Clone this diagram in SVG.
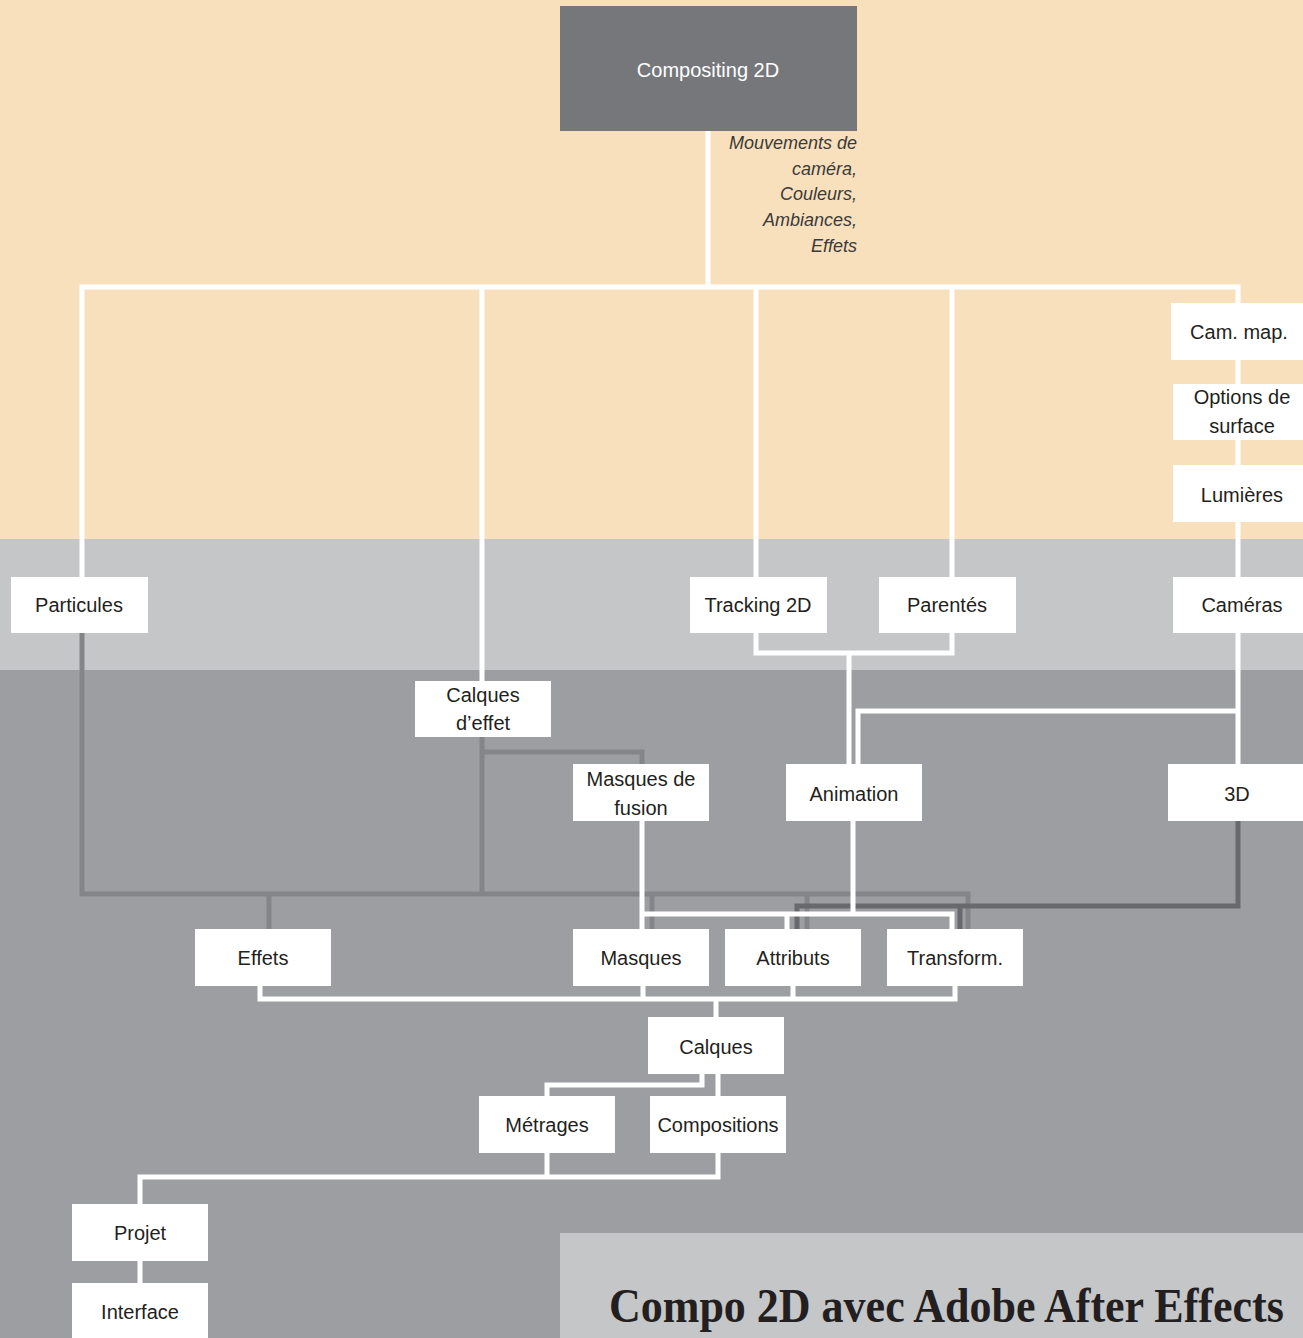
<svg xmlns="http://www.w3.org/2000/svg" width="1303" height="1338" viewBox="0 0 1303 1338">
<style>
.n rect{fill:#ffffff}
.n text{font-family:"Liberation Sans",Arial,sans-serif;font-size:20px;fill:#231f20;text-anchor:middle;dominant-baseline:central}
.w{fill:none;stroke:#ffffff;stroke-width:5}
.d1{fill:none;stroke:#848589;stroke-width:5}
.d2{fill:none;stroke:#68696c;stroke-width:5}
.note{font-family:"Liberation Sans",Arial,sans-serif;font-size:18px;font-style:italic;fill:#3a3a3a;text-anchor:end}
</style>
<rect x="0" y="0" width="1303" height="539" fill="#f9e0bd"/>
<rect x="0" y="539" width="1303" height="131" fill="#c5c6c8"/>
<rect x="0" y="670" width="1303" height="668" fill="#9d9ea2"/>
<rect x="560" y="1233" width="743" height="105" fill="#c5c6c8"/>

<g id="connectors">
<path class="d1" d="M82,633 V894 H968 V929 M269,894 V929 M652,894 V929 M807,894 V929 M482,737 V894 M482,752 H642 V764"/>
<path class="d2" d="M1238,821 V906 H797 V929 M960,906 V929"/>
<path class="w" d="M708,131 V287 M82,577 V287 H1238 V764 M482,287 V681 M756,287 V577 M952,287 V577"/>
<path class="w" d="M756,633 V653 H952 V633 M849,653 V764 M1238,711 H858 V764"/>
<path class="w" d="M642,821 V929 M853,821 V914 M642,914 H952 V929 M787,914 V929"/>
<path class="w" d="M260,986 V999 H955 V986 M643,986 V999 M793,986 V999 M716,999 V1017"/>
<path class="w" d="M702,1074 V1085 H547 V1096 M718,1074 V1096"/>
<path class="w" d="M547,1153 V1177 M140,1204 V1177 H718 V1153 M140,1261 V1283"/>
</g>

<g id="compositing2d">
<rect x="560" y="6" width="297" height="125" fill="#76777b"/>
<text x="708" y="70" font-family="Liberation Sans,Arial,sans-serif" font-size="20" fill="#ffffff" text-anchor="middle" dominant-baseline="central">Compositing 2D</text>
</g>
<g id="note">
<text class="note" x="857" y="149">Mouvements de</text>
<text class="note" x="857" y="175">caméra,</text>
<text class="note" x="857" y="200">Couleurs,</text>
<text class="note" x="857" y="226">Ambiances,</text>
<text class="note" x="857" y="252">Effets</text>
</g>

<g id="cammap" class="n"><rect x="1171" y="303" width="132" height="57"/><text x="1239" y="332">Cam. map.</text></g>
<g id="options" class="n"><rect x="1173" y="384" width="130" height="56"/><text x="1242" y="397">Options de</text><text x="1242" y="426">surface</text></g>
<g id="lumieres" class="n"><rect x="1173" y="465" width="130" height="57"/><text x="1242" y="495">Lumières</text></g>

<g id="particules" class="n"><rect x="11" y="577" width="137" height="56"/><text x="79" y="605">Particules</text></g>
<g id="tracking" class="n"><rect x="690" y="577" width="137" height="56"/><text x="758" y="605">Tracking 2D</text></g>
<g id="parentes" class="n"><rect x="879" y="577" width="137" height="56"/><text x="947" y="605">Parentés</text></g>
<g id="cameras" class="n"><rect x="1173" y="577" width="130" height="56"/><text x="1242" y="605">Caméras</text></g>

<g id="calqueseffet" class="n"><rect x="415" y="681" width="136" height="56"/><text x="483" y="695">Calques</text><text x="483" y="723">d’effet</text></g>
<g id="masquesfusion" class="n"><rect x="573" y="764" width="136" height="57"/><text x="641" y="779">Masques de</text><text x="641" y="808">fusion</text></g>
<g id="animation" class="n"><rect x="786" y="764" width="136" height="57"/><text x="854" y="794">Animation</text></g>
<g id="d3" class="n"><rect x="1168" y="764" width="135" height="57"/><text x="1237" y="794">3D</text></g>

<g id="effets" class="n"><rect x="195" y="929" width="136" height="57"/><text x="263" y="958">Effets</text></g>
<g id="masques" class="n"><rect x="573" y="929" width="136" height="57"/><text x="641" y="958">Masques</text></g>
<g id="attributs" class="n"><rect x="725" y="929" width="136" height="57"/><text x="793" y="958">Attributs</text></g>
<g id="transform" class="n"><rect x="887" y="929" width="136" height="57"/><text x="955" y="958">Transform.</text></g>

<g id="calques" class="n"><rect x="648" y="1017" width="136" height="57"/><text x="716" y="1047">Calques</text></g>
<g id="metrages" class="n"><rect x="479" y="1096" width="136" height="57"/><text x="547" y="1125">Métrages</text></g>
<g id="compositions" class="n"><rect x="650" y="1096" width="136" height="57"/><text x="718" y="1125">Compositions</text></g>

<g id="projet" class="n"><rect x="72" y="1204" width="136" height="57"/><text x="140" y="1233">Projet</text></g>
<g id="interface" class="n"><rect x="72" y="1283" width="136" height="57"/><text x="140" y="1312">Interface</text></g>

<text transform="translate(609,1322) scale(1,1.08)" x="0" y="0" font-family="Liberation Serif,Times New Roman,serif" font-weight="bold" font-size="44" fill="#231f20">Compo 2D avec Adobe After Effects</text>
</svg>
